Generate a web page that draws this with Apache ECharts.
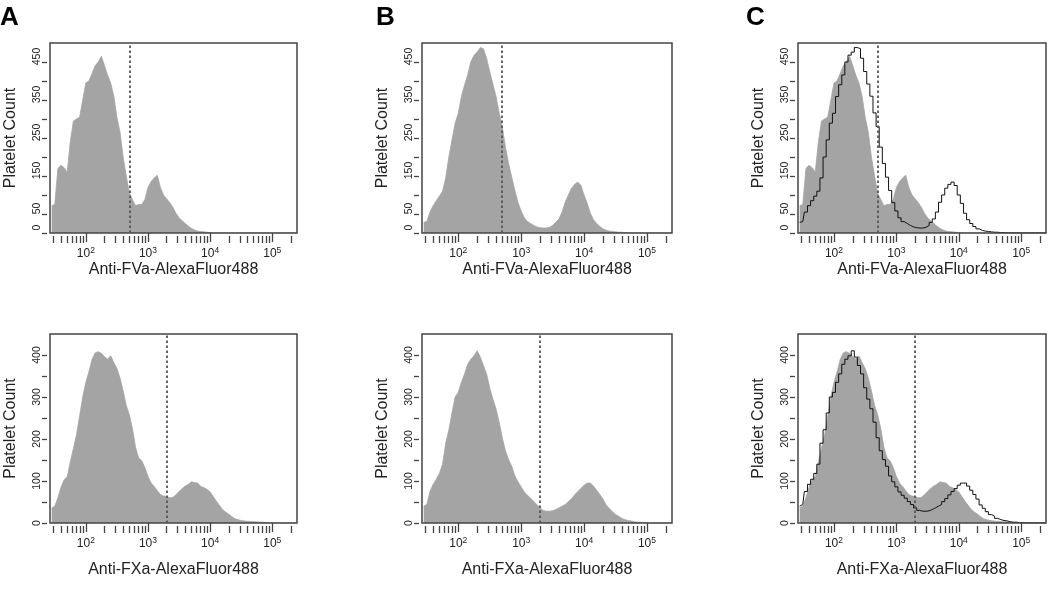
<!DOCTYPE html>
<html><head><meta charset="utf-8">
<script src="https://cdn.jsdelivr.net/npm/echarts@6/dist/echarts.min.js"></script>
<style>html,body{margin:0;padding:0;background:#fff}#c{width:1050px;height:599px}</style>
</head><body><div id="c"></div>
<script>
// Bin centres of the fluorescence histograms (log-spaced channels)
const binCenters = [28.2,31.6,35.5,39.8,44.7,50.1,56.2,63.1,70.8,79.4,89.1,
  100,112,126,141,158,178,200,224,251,282,316,355,398,447,501,562,631,708,794,891,
  1000,1122,1259,1413,1585,1778,1995,2239,2512,2818,3162,3548,3981,4467,5012,5623,6310,7079,7943,8913,
  10000,11220,12589,14125,15849,17783,19953,22387,25119,28184,31623,35481,39811,44668,50119,56234,63096,70795,79433,89125,
  100000,112202,125893,141254,158489,177828,199526,223872,251189];

// Panel A top: anti-FVa (grey)
const fvaCountsA = [72,75,170,178,172,160,240,295,300,305,350,
  395,400,420,440,450,465,440,415,395,360,305,265,200,150,105,88,72,75,75,88,
  120,135,145,152,120,100,90,80,68,52,40,32,25,18,12,8,5,4,3,2,
  1,0,0,0,0,0,0,0,0,0,0,0,0,0,0,0,0,0,0,0,
  0,0,0,0,0,0,0,0,0];
// Panel A bottom: anti-FXa (grey)
const fxaCountsA = [36,40,60,85,103,110,145,178,210,255,300,
  335,360,390,405,408,404,396,390,398,382,368,345,315,280,258,225,180,155,148,132,
  111,95,87,77,68,64,63,60,61,67,75,82,88,92,98,96,95,87,84,80,
  74,63,52,42,32,26,21,15,10,8,6,5,4,4,3,3,2,2,1,1,
  0,0,0,0,0,0,0,0,0];
// Panel B top: anti-FVa
const fvaCountsB = [28,30,55,72,85,97,110,145,200,245,289,
  315,359,390,416,450,468,476,488,485,460,425,392,360,316,280,226,183,147,112,80,
  58,40,30,25,20,16,14,13,13,15,20,28,37,55,81,100,118,128,134,125,
  100,78,52,35,25,17,11,7,5,4,3,2,2,1,1,0,0,0,0,0,
  0,0,0,0,0,0,0,0,0];
// Panel B bottom: anti-FXa
const fxaCountsB = [40,44,75,92,104,118,140,190,222,262,300,
  311,335,355,378,390,398,410,395,375,355,322,295,272,240,203,172,151,135,112,98,
  86,74,66,59,51,44,36,30,28,28,29,32,36,40,44,51,58,67,75,82,
  90,95,95,88,78,68,57,43,35,27,20,16,11,8,6,5,3,2,2,1,
  1,0,0,0,0,0,0,0,0];

const gateFVa = 500;
const gateFXa = 2000;

const panelLetters = ['A', 'B', 'C'];
const xNames = ['Anti-FVa-AlexaFluor488', 'Anti-FXa-AlexaFluor488'];
const yName = 'Platelet Count';
const xMajorTicks = [100, 1000, 10000, 100000];
const xMinorTicks = [30,40,50,60,70,80,90,200,300,400,500,600,700,800,900,
  2000,3000,4000,5000,6000,7000,8000,9000,20000,30000,40000,50000,60000,70000,80000,90000,200000];
const yTicksTop = [0,50,100,150,200,250,300,350,400,450];
const yLabelsTop = [0,50,150,250,350,450];
const yTicksBottom = [0,50,100,150,200,250,300,350,400];
const yLabelsBottom = [0,100,200,300,400];
const yMaxTop = 500, yMaxBottom = 450;
const xMin = 26.5, xMax = 250000;

const FONT = 'Liberation Sans, Arial, sans-serif';
const GREY = '#a4a4a4';
const DARK = '#444';

const colLeft = [50, 422, 798];
const colWidth = [247, 250, 248];
const rowTop = [43, 334];
const rowHeight = [190, 189];

const pair = arr => binCenters.map((x, i) => [x, arr[i]]);

const grids = [], xAxes = [], yAxes = [], series = [];
for (let r = 0; r < 2; r++) {
  for (let c = 0; c < 3; c++) {
    const g = grids.length;
    grids.push({left: colLeft[c], top: rowTop[r], width: colWidth[c], height: rowHeight[r],
      show: true, borderColor: DARK, borderWidth: 1.5, backgroundColor: 'transparent', z: 5});
    // major axis with labels
    xAxes.push({type: 'log', logBase: 10, gridIndex: g, position: 'bottom', min: xMin, max: xMax, offset: 3,
      name: xNames[r], nameLocation: 'middle', nameGap: r === 0 ? 26 : 36,
      nameTextStyle: {fontFamily: FONT, fontSize: 16, color: '#222'},
      axisLine: {show: false}, splitLine: {show: false}, minorTick: {show: false},
      axisTick: {show: true, customValues: xMajorTicks, length: 9, lineStyle: {color: DARK, width: 1.3}},
      axisLabel: {show: true, customValues: xMajorTicks, margin: 10, fontFamily: FONT,
        formatter: v => '{b|10}{s|' + Math.round(Math.log10(v)) + '}',
        rich: {b: {fontSize: 12, fontFamily: FONT, color: '#222', lineHeight: 15},
               s: {fontSize: 8.5, fontFamily: FONT, color: '#222', lineHeight: 9, verticalAlign: 'top'}}}
    });
    // minor ticks axis
    xAxes.push({type: 'log', logBase: 10, gridIndex: g, position: 'bottom', min: xMin, max: xMax, offset: 3,
      axisLine: {show: false}, splitLine: {show: false}, axisLabel: {show: false},
      axisTick: {show: true, customValues: xMinorTicks, length: 7, lineStyle: {color: DARK, width: 1.3}}
    });
    yAxes.push({type: 'value', gridIndex: g, position: 'left', min: 0, max: r === 0 ? yMaxTop : yMaxBottom, offset: 3,
      name: yName, nameLocation: 'middle', nameGap: 28,
      nameTextStyle: {fontFamily: FONT, fontSize: 16, color: '#222'},
      axisLine: {show: false}, splitLine: {show: false},
      axisTick: {show: true, customValues: r === 0 ? yTicksTop : yTicksBottom, length: 5,
        lineStyle: {color: DARK, width: 1.3}},
      axisLabel: {show: true, customValues: r === 0 ? yLabelsTop : yLabelsBottom, rotate: 90, margin: 4,
        fontFamily: FONT, fontSize: 10.5, color: '#222', padding: r === 0 ? [0, 0, 0, 11] : 0}
    });
  }
}

const gateOf = r => (r === 0 ? gateFVa : gateFXa);
const greyData = [[fvaCountsA, fvaCountsB, fvaCountsA], [fxaCountsA, fxaCountsB, fxaCountsA]];
for (let r = 0; r < 2; r++) {
  for (let c = 0; c < 3; c++) {
    const g = r * 3 + c;
    series.push({type: 'line', xAxisIndex: g * 2, yAxisIndex: g, data: pair(greyData[r][c]),
      symbol: 'none', silent: true,
      lineStyle: {width: 0.8, color: GREY}, itemStyle: {color: GREY}, areaStyle: {color: GREY, opacity: 1},
      markLine: {symbol: 'none', silent: true, label: {show: false},
        lineStyle: {color: '#555', width: 1.8, type: [2.5, 2.5]},
        data: [{xAxis: gateOf(r)}]}
    });
    if (c === 2) {
      series.push({type: 'line', xAxisIndex: g * 2, yAxisIndex: g,
        data: pair(r === 0 ? fvaCountsB : fxaCountsB),
        step: 'middle', symbol: 'none', silent: true, z: 3,
        lineStyle: {width: 1, color: '#111'}});
    }
  }
}

const letterX = [0, 376, 746];
const graphics = panelLetters.map((t, i) => ({type: 'text', left: letterX[i], top: 5,
  style: {text: t, font: 'bold 26px ' + FONT, fill: '#000'}}));

const chart = echarts.init(document.getElementById('c'), null, {renderer: 'canvas'});
chart.setOption({animation: false, backgroundColor: '#fff',
  grid: grids, xAxis: xAxes, yAxis: yAxes, series: series, graphic: graphics});
</script></body></html>
